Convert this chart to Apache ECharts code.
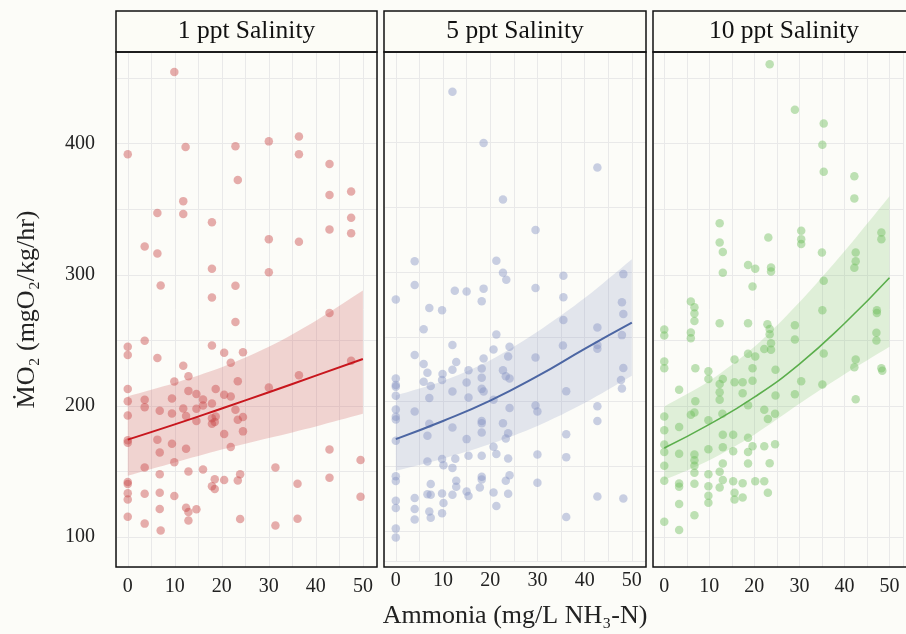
<!DOCTYPE html>
<html>
<head>
<meta charset="utf-8">
<script src="https://cdn.jsdelivr.net/npm/echarts@6/dist/echarts.min.js"></script>
<style>
  html, body { margin: 0; padding: 0; background: #fcfcf8; }
  #chart { width: 906px; height: 634px; }
</style>
</head>
<body>
<div id="chart"></div>
<script>
// panel titles
const panelTitles = ['1 ppt Salinity', '5 ppt Salinity', '10 ppt Salinity'];

// fitted curve + confidence band, read at these ammonia values
const fitAmmonia = [0, 10, 20, 30, 40, 50];

const ppt1Fit   = [174.2, 185.8, 198.0, 210.4, 223.0, 235.7];
const ppt1Upper = [207.3, 217.5, 229.4, 245.0, 265.0, 288.0];
const ppt1Lower = [146.6, 156.7, 166.6, 175.4, 184.3, 193.9];

const ppt5Fit   = [171.1, 185.1, 200.8, 219.7, 240.8, 261.0];
const ppt5Upper = [204.8, 216.0, 232.0, 254.0, 280.0, 310.0];
const ppt5Lower = [146.6, 156.0, 167.3, 181.3, 199.0, 220.0];

const ppt10Fit   = [167.8, 185.8, 206.6, 231.9, 262.8, 297.7];
const ppt10Upper = [199.5, 219.0, 245.0, 279.0, 318.0, 360.0];
const ppt10Lower = [143.3, 158.5, 178.0, 201.5, 224.0, 245.0];

// measurements [ammonia, MO2]
const ppt1Points = [
  [9.9,454.7],[0,391.9],[12.3,397.5],[22.9,398],[30,401.8],[36.4,405.6],[36.4,391.9],[42.9,384.5],
  [23.4,372.3],[42.9,360.8],[47.5,363.6],[11.8,356.2],[6.3,347.1],[11.8,346.3],[17.9,340],[47.5,343.5],
  [42.9,334.6],[47.5,331.6],[3.6,321.6],[6.3,316.3],[30,327.2],[36.4,325.2],[17.9,304.6],[30,302],
  [7,291.9],[22.9,291.6],[17.9,282.7],[42.9,270.8],[22.9,264],[3.6,249.6],[0,245],[0,238.7],
  [17.9,246],[6.3,236.5],[20.5,240.5],[24.5,240.8],[21.9,232.9],[11.8,230.6],[12.9,222.5],[47.5,234.4],
  [36.4,223.3],[9.9,218.5],[23.4,218.7],[0,212.9],[18.7,212.9],[12.9,211.4],[14.6,209.1],[30,213.9],
  [20.5,208.4],[21.9,207.1],[0,203.5],[3.6,204.6],[9.4,205.6],[16,204.8],[17.9,201.8],[3.6,199],
  [6.8,196.2],[11.8,198],[14.6,197.7],[16,200.3],[22.9,197],[0,192.7],[9.4,194.2],[12.4,192.2],
  [14.6,188.4],[17.9,190.6],[18.7,191.9],[17.9,186.3],[18.5,187.6],[23.4,189.4],[24.5,191.4],[0,173.7],
  [0,171.9],[6.3,174.2],[20.5,178.5],[24.5,180.5],[6.8,164.3],[9.4,171.1],[12.4,167.3],[21.9,168.6],
  [42.9,166.6],[9.9,157],[3.6,152.9],[31.4,152.9],[49.5,158.7],[12.9,149.9],[16,151.4],[6.8,147.8],
  [23.9,147.8],[18.5,144],[20.5,143.3],[23.4,143],[42.9,145.1],[0,141.8],[0,140.3],[17.9,138.7],
  [18.5,136.5],[36.1,140.5],[0,133.2],[0,128.6],[3.6,132.9],[6.8,133.7],[9.9,131.1],[49.5,130.6],
  [12.4,122.3],[12.9,119],[14.6,121],[6.8,121.3],[0,115.4],[3.6,110.1],[12.9,112.4],[23.9,113.7],
  [31.4,108.6],[36.1,113.9],[7,104.8]
];

const ppt5Points = [
  [12,439.4],[18.6,399.7],[42.7,380.9],[22.7,356.2],[29.6,332.6],[4,308.4],[21.3,308.9],[22.7,299.5],
  [23.4,294.1],[35.5,297.2],[48.2,298.5],[4,290.1],[12.5,285.7],[15,285],[18.6,287.3],[29.6,287.8],
  [35.5,280.7],[0,278.9],[18.2,277.6],[47.9,276.8],[7.1,272.4],[9.8,270.6],[48.2,267.8],[5.9,256],
  [35.5,263],[42.7,257.2],[21.3,251.9],[47.9,251.4],[12,243.8],[35.4,243.3],[42.7,243.8],[42.7,240.8],
  [4,236],[20.7,240.3],[24.1,242.5],[23.8,234.9],[18.6,233.4],[29.6,234.2],[5.9,229.1],[6.7,222.3],
  [12.8,230.6],[9.9,221.3],[12,224.6],[15.4,224.3],[18.2,225.6],[22.7,224.3],[0,218],[0,212.9],
  [0,211.6],[0,204.6],[5.9,215.4],[7.4,212.2],[9.8,216.7],[15,214.9],[18.2,218.5],[23.3,219.7],
  [24.1,218],[48.2,226.1],[47.7,216.7],[47.9,210.1],[36.1,208.1],[12,207.8],[7.1,202.8],[15.4,203.3],
  [18.2,209.9],[18.6,207.8],[20.7,201.5],[0,193.9],[0,188.4],[0,186.3],[4,192.4],[24.1,195.2],
  [29.6,197],[30,192.4],[42.7,196.5],[42.7,185.1],[7.1,183],[18.2,185.1],[18.2,183.3],[18.2,176.2],
  [22.7,183.3],[12,180],[6.7,173.7],[15,171.1],[23.8,175.7],[23.3,171.6],[36.1,174.9],[0,169.9],
  [20.7,165.3],[21.3,159.7],[9.8,155.7],[10.1,150.9],[12.6,155.9],[12,148.9],[6.7,153.9],[15.4,158.2],
  [18.2,158.2],[23.8,156.2],[30,159.2],[36.1,157.2],[0,142.5],[0,138.7],[7.4,136.5],[12.8,139],
  [12.8,134.4],[18.2,142],[18.2,140],[17.8,133.7],[23.3,139],[24.1,143.3],[30,137.5],[0,123.5],
  [0,118],[4,125.6],[4,117.2],[4,109.1],[6.7,128.6],[7.4,128.1],[7.1,115.2],[7.4,110.4],
  [9.8,129.1],[10.1,121.8],[9.8,113.9],[12,128.1],[15,130.6],[15.4,127.1],[20.7,129.9],[21.3,119.5],
  [23.8,128.9],[36.1,110.9],[42.7,126.8],[48.2,125.3],[0,102],[0,95.2]
];

const ppt10Points = [
  [23.4,460.6],[29,426],[35.4,415.5],[35.1,399.2],[35.4,378.6],[42.2,375.1],[42.2,358.3],[12.3,339.4],
  [12.3,324.7],[13,317.3],[13,301.5],[23.1,328.5],[30.4,333.6],[30.4,327.2],[30.4,323.4],[35,317],
  [42.5,317],[42.5,310.4],[42.2,305.3],[48.2,332.3],[48.2,327.2],[18.6,307.4],[20.2,304.6],[23.7,305.6],
  [23.7,302.5],[19.6,291.1],[35.4,295.4],[5.9,279.6],[6.7,275.3],[6.7,270.4],[6.7,264.8],[0,258.2],
  [0,253.7],[5.9,256],[5.9,251.6],[12.3,263],[18.6,263],[22.9,262.3],[23.4,258.7],[23.4,254.7],
  [23.7,247.8],[23.7,242.8],[22.2,243.3],[29,261.5],[29,250.6],[35.1,272.9],[35.4,240],[47.2,272.9],
  [47.2,270.9],[47.1,255.7],[47.1,249.9],[42.5,235.4],[42.2,229.4],[48.2,228.6],[48.4,226.8],[42.5,205.1],
  [0,233.9],[0,228.6],[6.9,228.6],[9.8,226.3],[9.8,220.5],[15.6,235.4],[18.6,239.7],[20.2,237.7],
  [19.6,228.6],[19.6,219.2],[24.7,227.6],[13,220.5],[12.3,216.7],[12.3,210.4],[12.3,204.6],[15.6,218],
  [17.4,218],[17.4,209.6],[18.6,200.5],[30.4,218.7],[29,208.9],[35.1,216.2],[24.7,207.8],[3.3,212.2],
  [6.9,203.5],[6.7,194.9],[5.9,193.2],[12.9,193.9],[22.2,197],[24.6,193.9],[23,189.9],[0,191.9],
  [0,181.3],[0,170.4],[0,164.8],[0,154.2],[0,142.8],[3.3,183.8],[3.3,163.5],[3.3,140.8],
  [3.3,138.2],[3.3,125.1],[0,111.6],[3.3,105.3],[9.8,188.9],[9.8,166.8],[13,178],[13,168.4],
  [15.3,178],[15.3,165.3],[18.6,175.7],[18.6,164.8],[19.6,169.1],[22.2,169.1],[24.6,170.6],[6.7,162.8],
  [6.7,158.5],[6.7,154.2],[6.7,148.9],[6.7,140.5],[13,155.9],[12.3,149.6],[9.8,147.8],[13,143.3],
  [15.3,142.5],[17.4,141],[18.6,155.9],[20.2,142.5],[22.2,142.5],[23.4,156.2],[9.8,138.7],[12.3,137.7],
  [15.6,133.7],[15.6,128.6],[17.4,130.1],[23,133.7],[9.8,131.4],[9.8,126.1],[6.7,116.5]
];

const xTickLabels = [0, 10, 20, 30, 40, 50];
const yTickLabels = [100, 200, 300, 400];

const FONT = '"Liberation Serif", "DejaVu Serif", serif';

const panels = [
  { points: ppt1Points, fit: ppt1Fit, upper: ppt1Upper, lower: ppt1Lower,
    left: 116, width: 261, dot: 'rgba(200,70,70,0.55)', line: '#c8161d', lineW: 2, band: 'rgba(200,70,70,0.22)' },
  { points: ppt5Points, fit: ppt5Fit, upper: ppt5Upper, lower: ppt5Lower,
    left: 384, width: 262, dot: 'rgba(135,148,195,0.55)', line: '#4c66a3', lineW: 2, band: 'rgba(125,140,190,0.2)' },
  { points: ppt10Points, fit: ppt10Fit, upper: ppt10Upper, lower: ppt10Lower,
    left: 653, width: 262, dot: 'rgba(110,190,90,0.55)', line: '#5bae4c', lineW: 1.6, band: 'rgba(110,190,90,0.2)' }
];

const TOP = 52, HEIGHT = 515, STRIP = 41;

const grids = [], xAxes = [], yAxes = [], series = [], graphics = [];

panels.forEach(function (p, i) {
  grids.push({ left: p.left, top: TOP, width: p.width, height: HEIGHT, show: false });

  xAxes.push({
    gridIndex: i, type: 'value', min: -2.5, max: 53, minInterval: 5, maxInterval: 5,
    axisLine: { show: false }, axisTick: { show: false },
    axisLabel: {
      margin: 10, fontSize: 20, color: '#222', fontFamily: FONT,
      formatter: function (v) { return xTickLabels.indexOf(v) >= 0 ? String(v) : ''; }
    },
    splitLine: { show: true, lineStyle: { color: '#e9e9e9', width: 1 } },
    name: i === 1 ? 'Ammonia (mg/L NH\u2083-N)' : '',
    nameLocation: 'middle', nameGap: 42,
    nameTextStyle: { fontSize: 26, color: '#222', fontFamily: FONT }
  });

  yAxes.push({
    gridIndex: i, type: 'value', min: 77, max: 470, minInterval: 50, maxInterval: 50,
    axisLine: { show: false }, axisTick: { show: false },
    axisLabel: {
      show: i === 0, margin: 21, fontSize: 20, color: '#222', fontFamily: FONT,
      formatter: function (v) { return yTickLabels.indexOf(v) >= 0 ? String(v) : ''; }
    },
    splitLine: { show: true, lineStyle: { color: '#e9e9e9', width: 1 } },
    name: i === 0 ? '\u1E40O\u2082 (mgO\u2082/kg/hr)' : '',
    nameLocation: 'middle', nameGap: 76,
    nameTextStyle: { fontSize: 26, color: '#222', fontFamily: FONT }
  });

  // confidence band as one polygon (upper edge, then lower edge back)
  series.push({
    type: 'custom', xAxisIndex: i, yAxisIndex: i, silent: true, z: 1,
    data: [[fitAmmonia[0], p.lower[0]]],
    renderItem: function (params, api) {
      const up = fitAmmonia.map(function (x, k) { return api.coord([x, p.upper[k]]); });
      const lo = fitAmmonia.map(function (x, k) { return api.coord([x, p.lower[k]]); }).reverse();
      // doubled end vertices keep the band ends straight
      const pts = [up[0]].concat(up, [up[up.length - 1]], [lo[0]], lo, [lo[lo.length - 1]]);
      return { type: 'polygon', shape: { points: pts, smooth: 0.3 }, style: { fill: p.band } };
    }
  });
  series.push({
    type: 'scatter', xAxisIndex: i, yAxisIndex: i, symbolSize: 8.5,
    itemStyle: { color: p.dot }, data: p.points, z: 2
  });
  series.push({
    type: 'line', xAxisIndex: i, yAxisIndex: i, smooth: true, symbol: 'none',
    lineStyle: { color: p.line, width: p.lineW },
    data: fitAmmonia.map(function (x, k) { return [x, p.fit[k]]; }), z: 3
  });

  // facet strip + panel frame
  graphics.push({
    type: 'rect', z: 100,
    shape: { x: p.left, y: TOP - STRIP, width: p.width, height: STRIP },
    style: { fill: '#fcfcf6', stroke: '#111', lineWidth: 1.5 }
  });
  graphics.push({
    type: 'text', z: 101,
    x: p.left + p.width / 2, y: TOP - STRIP / 2,
    style: { text: panelTitles[i], fontSize: 25.5, fontFamily: FONT, fill: '#111',
             align: 'center', verticalAlign: 'middle' }
  });
  graphics.push({
    type: 'rect', z: 100,
    shape: { x: p.left, y: TOP, width: p.width, height: HEIGHT },
    style: { fill: 'none', stroke: '#111', lineWidth: 1.5 }
  });
});

const chart = echarts.init(document.getElementById('chart'));
chart.setOption({
  backgroundColor: '#fcfcf8',
  animation: false,
  grid: grids,
  xAxis: xAxes,
  yAxis: yAxes,
  series: series,
  graphic: graphics
});
</script>
</body>
</html>
